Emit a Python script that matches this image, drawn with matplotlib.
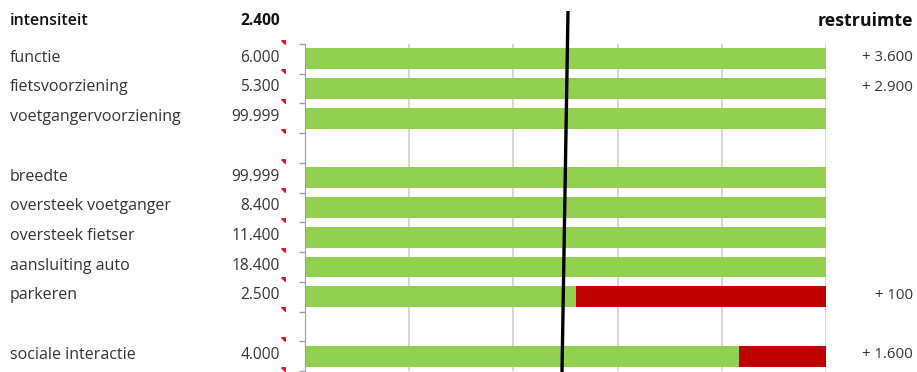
import numpy as np
import matplotlib.pyplot as plt
from matplotlib import transforms
from matplotlib.path import Path

plt.rcParams['font.family'] = ['Open Sans', 'DejaVu Sans']

# capaciteit per aspect, intensiteit als referentie
intensiteit = 2400
aspecten = ["functie", "fietsvoorziening", "voetgangervoorziening",
            "breedte", "oversteek voetganger", "oversteek fietser",
            "aansluiting auto", "parkeren",
            "sociale interactie"]
capaciteit = [6000, 5300, 99999, 99999, 8400, 11400, 18400, 2500, 4000]
restruimte = [3600, 2900, None, None, None, None, None, 100, 1600]
# rijnummer in de tabel (lege rijen tussen de groepen)
rij = [0, 1, 2, 4, 5, 6, 7, 8, 10]
n_rijen = 11

GROEN = "#92D050"
ROOD = "#C00000"
TEKST = "#333333"


def fmt(v):
    return f"{v:,}".replace(",", ".")


W, H = 917, 372
fig = plt.figure(figsize=(W / 100, H / 100), dpi=100)
ax = fig.add_axes([305 / W, 1 / H, (826 - 305) / W, (371 - 44) / H])

xmax = 2 * intensiteit
rij = np.array(rij)
cap = np.array(capaciteit)
groen = np.minimum(cap, xmax)
ax.barh(rij, groen, height=0.7, color=GROEN, zorder=2)
tekort = cap < xmax
ax.barh(rij[tekort], xmax - cap[tekort], left=cap[tekort], height=0.7,
        color=ROOD, zorder=2)

ax.set_xlim(0, xmax)
ax.set_ylim(n_rijen - 0.5, -0.5)
ax.set_xticks(np.linspace(0, xmax, 6)[1:])
ax.xaxis.grid(True, color="#cfcfcf", lw=1.2, zorder=0)
ax.tick_params(axis="x", length=0, labelbottom=False)
ax.set_yticks(np.arange(n_rijen + 1) - 0.5)
ax.tick_params(axis="y", length=4, color="#9a9ab4", labelleft=False, width=1)
for s in ["top", "right", "bottom"]:
    ax.spines[s].set_visible(False)
ax.spines["left"].set_color("#9a9ab4")

# intensiteitslijn, loopt door tot boven de grafiek
px = xmax / (826 - 305)
top_y = -0.5 - (44 - 11) / ((371 - 44) / n_rijen)
ax.plot([intensiteit + 2.5 * px, intensiteit - 3.5 * px], [top_y, n_rijen - 0.45],
        color="black", lw=2.4, clip_on=False, zorder=5, solid_capstyle="butt")

# labels links en rechts
tr = transforms.blended_transform_factory(fig.transFigure, ax.transData)
for r, naam, c, rest in zip(rij, aspecten, capaciteit, restruimte):
    y = r - 0.04
    ax.text(10 / W, y, naam, transform=tr, ha="left", va="center",
            fontsize=11.5, color=TEKST)
    ax.text(280 / W, y, fmt(c), transform=tr, ha="right", va="center",
            fontsize=11.2, color=TEKST)
    if rest is not None:
        ax.text(913 / W, y, "+ " + fmt(rest), transform=tr, ha="right",
                va="center", fontsize=10.8, color=TEKST)

fig.text(10 / W, 1 - 21 / H, "intensiteit", ha="left", va="center",
         fontsize=11.5, fontweight="semibold", color="#111111")
fig.text(280 / W, 1 - 21 / H, fmt(intensiteit), ha="right", va="center",
         fontsize=11.2, fontweight="bold", color="#111111")
fig.text(913 / W, 1 - 21 / H, "restruimte", ha="right", va="center",
         fontsize=12.8, fontweight="bold", color="#111111")

# commentaarmarkeringen in de hoek van de cellen
hoek = Path([(-1, 1), (1, 1), (1, -1), (-1, 1)])
ys = np.arange(n_rijen + 1) - 0.58
ax.plot(np.full(len(ys), 283 / W), ys, transform=tr, ls="none", marker=hoek,
        ms=2.6, color="#e8141e", clip_on=False)

fig.savefig("out.png", dpi=100)
